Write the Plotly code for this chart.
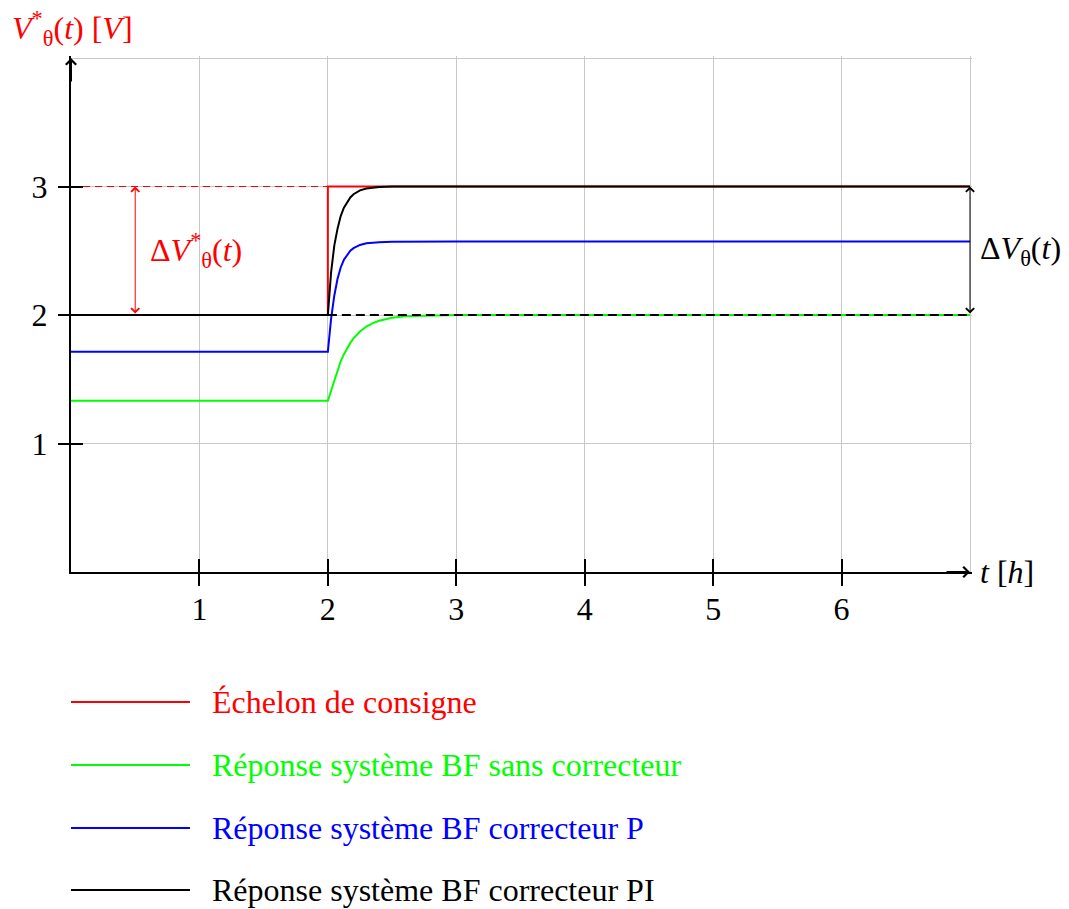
import plotly.graph_objects as go

# ---------------- data ----------------
T_STEP = [0, 2, 2, 7]
V_STEP = [2, 2, 3, 3]

T_RESP = [0, 2, 2.025, 2.05, 2.075, 2.1, 2.125, 2.15, 2.175, 2.2, 2.25, 2.3, 2.35, 2.4, 2.5, 2.6, 2.8, 3.0, 7]
V_NO_CORR = [1.333, 1.333, 1.41, 1.49, 1.57, 1.64, 1.695, 1.742, 1.783, 1.818, 1.872, 1.91, 1.937, 1.955, 1.978, 1.99, 1.997, 2.0, 2.0]
V_P_CORR = [1.714, 1.714, 1.97, 2.15, 2.28, 2.37, 2.43, 2.47, 2.5, 2.52, 2.545, 2.558, 2.564, 2.567, 2.57, 2.571, 2.571, 2.571, 2.571]
V_PI_CORR = [2.0, 2.0, 2.33, 2.54, 2.67, 2.77, 2.835, 2.88, 2.915, 2.94, 2.97, 2.985, 2.992, 2.997, 3.0, 3.0, 3.0, 3.0, 3.0]

T_REF_HIGH = [0, 2]
V_REF_HIGH = [3, 3]
T_REF_LOW = [2, 7]
V_REF_LOW = [2, 2]

X_TICKS = [1, 2, 3, 4, 5, 6]
X_TICK_LABELS = ["1", "2", "3", "4", "5", "6"]
X_GRID = [1, 2, 3, 4, 5, 6, 7]
Y_TICKS = [1, 2, 3]
Y_TICK_LABELS = ["1", "2", "3"]
Y_GRID = [1, 2, 3, 4]

SERIES_NAMES = ["Échelon de consigne",
                "Réponse système BF sans correcteur",
                "Réponse système BF correcteur P",
                "Réponse système BF correcteur PI"]
SERIES_COLORS = ["#ff0000", "#00ff00", "#0000ff", "#000000"]

# ---------------- figure ----------------
W, H = 1069, 909
FONT = "Liberation Serif"
FS = 32
PX = 899 / 7.0      # px per x unit
PY = 514 / 4.0      # px per y unit
X_RANGE = [0, 7.015]
Y_RANGE = [0, 4.015]

fig = go.Figure()

series = [(T_STEP, V_STEP), (T_RESP, V_NO_CORR), (T_RESP, V_P_CORR), (T_RESP, V_PI_CORR)]
for (tx, vy), name, col in zip(series, SERIES_NAMES, SERIES_COLORS):
    fig.add_trace(go.Scatter(x=tx, y=vy, mode="lines", name=name,
                             line=dict(color=col, width=2), showlegend=False))

fig.add_trace(go.Scatter(x=T_REF_HIGH, y=V_REF_HIGH, mode="lines", showlegend=False,
                         xaxis="x2", yaxis="y2",
                         line=dict(color="#ff0000", width=1, dash="7px,5px")))
fig.add_trace(go.Scatter(x=T_REF_LOW, y=V_REF_LOW, mode="lines", showlegend=False,
                         xaxis="x3", yaxis="y3",
                         line=dict(color="#000000", width=2, dash="9px,5px")))

x_dom = [71 / W, (71 + X_RANGE[1] * PX) / W]
y_dom = [(H - 572) / H, (H - 572 + Y_RANGE[1] * PY) / H]

common = dict(zeroline=False, fixedrange=True)
fig.update_layout(
    width=W, height=H,
    margin=dict(l=0, r=0, t=0, b=0),
    paper_bgcolor="white", plot_bgcolor="white",
    font=dict(family=FONT, size=FS, color="black"),
    showlegend=False,
    xaxis=dict(domain=x_dom, range=X_RANGE, tickvals=X_GRID, showticklabels=False, ticks="",
               showgrid=True, gridcolor="#c8c8c8", gridwidth=1,
               showline=True, linecolor="black", linewidth=2, anchor="y", **common),
    yaxis=dict(domain=y_dom, range=Y_RANGE, tickvals=Y_GRID, showticklabels=False, ticks="",
               showgrid=True, gridcolor="#c8c8c8", gridwidth=1,
               showline=True, linecolor="black", linewidth=2, anchor="x", **common),
    xaxis2=dict(overlaying="x", anchor="y2", range=X_RANGE, tickvals=X_TICKS, ticktext=X_TICK_LABELS,
                ticks="outside", ticklen=13, tickwidth=1.5, tickcolor="black",
                showgrid=False, showline=False, side="bottom", ticklabelstandoff=-4,
                tickfont=dict(family=FONT, size=FS, color="black"), **common),
    yaxis2=dict(overlaying="y", anchor="x2", range=Y_RANGE, tickvals=Y_TICKS, ticktext=Y_TICK_LABELS,
                ticks="outside", ticklen=12, tickwidth=1.5, tickcolor="black",
                showgrid=False, showline=False, side="left", ticklabelstandoff=4,
                tickfont=dict(family=FONT, size=FS, color="black"), **common),
    xaxis3=dict(overlaying="x", anchor="y3", range=X_RANGE, tickvals=X_TICKS,
                ticks="inside", ticklen=13, tickwidth=1.5, tickcolor="black",
                showticklabels=False, showgrid=False, showline=False, side="bottom", **common),
    yaxis3=dict(overlaying="y", anchor="x3", range=Y_RANGE, tickvals=Y_TICKS,
                ticks="inside", ticklen=12, tickwidth=1.5, tickcolor="black",
                showticklabels=False, showgrid=False, showline=False, side="left", **common),
)

annotations = []
# axis arrowheads
annotations.append(dict(x=7, y=0, xref="x", yref="y", ax=-25, ay=0, text="", showarrow=True,
                        arrowhead=4, arrowsize=1, arrowwidth=2, arrowcolor="black"))
annotations.append(dict(x=0, y=4, xref="x", yref="y", ax=0, ay=25, text="", showarrow=True,
                        arrowhead=4, arrowsize=1, arrowwidth=2, arrowcolor="black"))
# delta arrows
annotations.append(dict(x=0.5, y=3, xref="x", yref="y", ax=0.5, ay=2, axref="x", ayref="y",
                        text="", showarrow=True, arrowside="end+start",
                        arrowhead=4, startarrowhead=4, arrowsize=1.6, startarrowsize=1.6,
                        arrowwidth=1, arrowcolor="#ff0000"))
annotations.append(dict(x=7, y=3, xref="x", yref="y", ax=7, ay=2, axref="x", ayref="y",
                        text="", showarrow=True, arrowside="end+start",
                        arrowhead=4, startarrowhead=4, arrowsize=1.6, startarrowsize=1.6,
                        arrowwidth=1, arrowcolor="#000000"))
# texts
annotations.append(dict(x=0.6, y=2.5, xref="x", yref="y", xanchor="left", yanchor="middle",
                        text="Δ<i>V</i><sup>*</sup><sub>θ</sub>(<i>t</i>)", showarrow=False,
                        font=dict(family=FONT, size=FS, color="#ff0000")))
annotations.append(dict(x=7, y=2.5, xref="x", yref="y", xanchor="left", yanchor="middle", xshift=8,
                        text="Δ<i>V</i><sub>θ</sub>(<i>t</i>)", showarrow=False,
                        font=dict(family=FONT, size=FS, color="black")))
annotations.append(dict(x=7, y=0, xref="x", yref="y", xanchor="left", yanchor="middle", xshift=8,
                        text="<i>t</i> [<i>h</i>]", showarrow=False,
                        font=dict(family=FONT, size=FS, color="black")))
annotations.append(dict(x=10 / W, y=1 - 28 / H, xref="paper", yref="paper", xanchor="left", yanchor="middle",
                        text="<i>V</i><sup>*</sup><sub>θ</sub>(<i>t</i>) [<i>V</i>]", showarrow=False,
                        font=dict(family=FONT, size=FS, color="#ff0000")))

# manual legend
LEG_ROWS_PX = [702, 765, 828, 890]
shapes = []
for name, col, py in zip(SERIES_NAMES, SERIES_COLORS, LEG_ROWS_PX):
    yp = 1 - py / H
    shapes.append(dict(type="line", xref="paper", yref="paper", x0=71 / W, x1=190 / W, y0=yp, y1=yp,
                       line=dict(color=col, width=2)))
    annotations.append(dict(x=210 / W, y=yp, xref="paper", yref="paper", xanchor="left", yanchor="middle",
                            text=name, showarrow=False, font=dict(family=FONT, size=FS, color=col)))

fig.update_layout(annotations=annotations, shapes=shapes)
fig.write_html("out.html")
